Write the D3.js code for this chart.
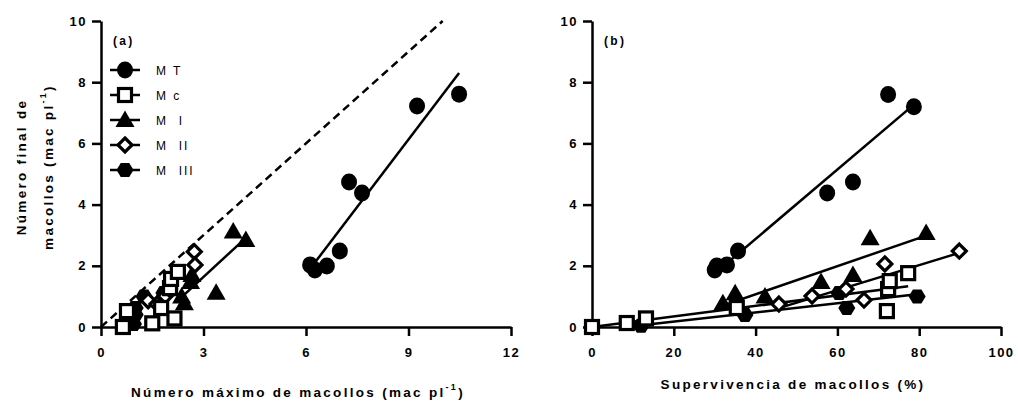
<!DOCTYPE html>
<html>
<head>
<meta charset="utf-8">
<script src="https://cdn.jsdelivr.net/npm/d3@7"></script>
<style>
  body { margin: 0; background: #fff; }
  text { font-family: "Liberation Sans", Arial, sans-serif; fill: #000; }
  .axis path, .axis line { stroke: #000; stroke-width: 2.5px; }
  .axis text { font-size: 13px; font-weight: bold; letter-spacing: 1.5px; font-family: "Liberation Sans", Arial, sans-serif; }
  .title { font-size: 13.5px; font-weight: bold; letter-spacing: 2.3px; }
</style>
</head>
<body>
<div id="chart"></div>
<script>
// panel (a): numero maximo vs numero final de macollos (mac pl-1)
var aMT   = [[6.12,2.03],[6.26,1.86],[6.61,1.99],[6.99,2.48],[7.26,4.74],[7.64,4.38],[9.25,7.22],[10.48,7.61]];
var aMc   = [[0.64,0],[0.76,0.52],[1.5,0.12],[1.76,0.62],[2.02,1.27],[2.05,1.57],[2.25,1.8],[2.15,0.28]];
var aMI   = [[2.44,0.78],[3.37,1.12],[2.36,1.0],[2.62,1.47],[2.66,1.7],[4.24,2.84],[3.87,3.12]];
var aMII  = [[2.73,2.46],[2.75,2.03],[1.38,0.86],[1.64,0.75],[1.88,1.01],[2.0,1.24]];
var aMIII = [[0.95,0.1],[1.0,0.4],[1.0,0.62],[1.26,1.0],[1.84,1.11]];

// panel (b): supervivencia (%) vs numero final
var bMT   = [[30,1.86],[30.5,1.99],[33,2.03],[35.7,2.48],[57.5,4.38],[63.8,4.74],[72.4,7.6],[78.7,7.2]];
var bMc   = [[0,0],[8.5,0.13],[13.2,0.28],[35.4,0.62],[72.1,0.52],[72.4,1.24],[72.8,1.5],[77.3,1.76]];
var bMI   = [[32,0.78],[35,1.1],[42.3,1.0],[56,1.47],[63.8,1.7],[68,2.9],[81.7,3.07]];
var bMII  = [[45.7,0.75],[53.8,1.01],[62.1,1.24],[66.5,0.88],[71.6,2.06],[89.8,2.48]];
var bMIII = [[12,0.04],[37.4,0.39],[60.4,1.11],[62.3,0.62],[79.5,1.0]];

var seriesNames  = ["MT", "Mc", "MI", "MII", "MIII"];
var legendLabels = ["M T", "M c", "M  I", "M  II", "M  III"];
var drawOrder    = ["MT", "MIII", "MI", "MII", "Mc"];
var fitsA = ["MT", "MI"];
var fitsB = ["MT", "Mc", "MI", "MII", "MIII"];
var oneToOne = [0, 10];

var xTicksA = [0, 3, 6, 9, 12];
var xTicksB = [0, 20, 40, 60, 80, 100];
var yTicks  = [0, 2, 4, 6, 8, 10];

var dataA = {MT: aMT, Mc: aMc, MI: aMI, MII: aMII, MIII: aMIII};
var dataB = {MT: bMT, Mc: bMc, MI: bMI, MII: bMII, MIII: bMIII};

var width = 1018, height = 407;

var svg = d3.select("#chart").append("svg")
    .attr("width", width)
    .attr("height", height);

var xA = d3.scaleLinear().domain([0, 12]).range([101, 511]);
var xB = d3.scaleLinear().domain([0, 100]).range([592, 1001]);
var y  = d3.scaleLinear().domain([0, 10]).range([327, 21]);

// marker shapes
function hexPath(r) {
  var pts = d3.range(6).map(function(i) {
    var a = Math.PI / 3 * i;
    return [r * Math.cos(a), r * 0.95 * Math.sin(a)];
  });
  return "M" + pts.join("L") + "Z";
}

function addMarker(g, name, cx, cy) {
  var m;
  switch (name) {
    case "MT":
      m = g.append("ellipse").attr("rx", 8).attr("ry", 8.5).attr("fill", "#000");
      break;
    case "Mc":
      m = g.append("rect").attr("x", -6.5).attr("y", -6.5).attr("width", 13).attr("height", 13)
          .attr("fill", "#fff").attr("stroke", "#000").attr("stroke-width", 3.2);
      break;
    case "MI":
      m = g.append("path").attr("d", "M0,-9.5L9.5,7L-9.5,7Z").attr("fill", "#000");
      break;
    case "MII":
      m = g.append("path").attr("d", "M0,-7L7,0L0,7L-7,0Z")
          .attr("fill", "#fff").attr("stroke", "#000").attr("stroke-width", 3.2);
      break;
    default:
      m = g.append("path").attr("d", hexPath(8.5)).attr("fill", "#000");
  }
  m.attr("transform", "translate(" + cx + "," + cy + ")");
}

// least squares line over the data range
function linFit(pts) {
  var mx = d3.mean(pts, function(d) { return d[0]; });
  var my = d3.mean(pts, function(d) { return d[1]; });
  var sxy = d3.sum(pts, function(d) { return (d[0] - mx) * (d[1] - my); });
  var sxx = d3.sum(pts, function(d) { return (d[0] - mx) * (d[0] - mx); });
  var m = sxy / sxx, b = my - m * mx;
  var x0 = d3.min(pts, function(d) { return d[0]; });
  var x1 = d3.max(pts, function(d) { return d[0]; });
  return [[x0, m * x0 + b], [x1, m * x1 + b]];
}

function drawPanel(x, xTicks, data, fits, extra) {
  var g = svg.append("g");

  g.append("g")
      .attr("class", "axis")
      .attr("transform", "translate(0," + y(0) + ")")
      .call(d3.axisBottom(x).tickValues(xTicks).tickSize(9).tickSizeOuter(0).tickPadding(12)
            .tickFormat(d3.format("d")));

  g.append("g")
      .attr("class", "axis")
      .attr("transform", "translate(" + x(0) + ",0)")
      .call(d3.axisLeft(y).tickValues(yTicks).tickSize(9).tickSizeOuter(0).tickPadding(5)
            .tickFormat(d3.format("d")));

  var line = d3.line()
      .x(function(d) { return x(d[0]); })
      .y(function(d) { return y(d[1]); });

  if (extra) extra(g, line);

  fits.forEach(function(s) {
    g.append("path")
        .attr("d", line(linFit(data[s])))
        .attr("fill", "none")
        .attr("stroke", "#000")
        .attr("stroke-width", 2.5);
  });

  drawOrder.forEach(function(s) {
    data[s].forEach(function(d) {
      addMarker(g, s, x(d[0]), y(d[1]));
    });
  });
  return g;
}

// panel (a), with the dashed 1:1 line
drawPanel(xA, xTicksA, dataA, fitsA, function(g, line) {
  g.append("path")
      .attr("d", line(oneToOne.map(function(v) { return [v, v]; })))
      .attr("fill", "none")
      .attr("stroke", "#000")
      .attr("stroke-width", 2.5)
      .attr("stroke-dasharray", "8,5");
});

// panel (b)
drawPanel(xB, xTicksB, dataB, fitsB);

// panel letters
svg.append("text").attr("x", 113).attr("y", 45).attr("class", "title").style("font-size", "12px").text("(a)");
svg.append("text").attr("x", 604).attr("y", 45).attr("class", "title").style("font-size", "12px").text("(b)");

// legend
var legend = svg.append("g");
seriesNames.forEach(function(s, i) {
  var ly = 70 + i * 25;
  legend.append("line")
      .attr("x1", 110).attr("x2", 140).attr("y1", ly).attr("y2", ly)
      .attr("stroke", "#000").attr("stroke-width", 2.5);
  addMarker(legend, s, 125, ly);
  legend.append("text")
      .attr("x", 156).attr("y", ly + 4.5)
      .style("font-size", "12px")
      .style("letter-spacing", "2px")
      .style("white-space", "pre")
      .text(legendLabels[i]);
});

// axis titles
var tA = svg.append("text").attr("class", "title")
    .attr("x", 298).attr("y", 397).attr("text-anchor", "middle");
tA.append("tspan").text("Número máximo de macollos (mac pl");
tA.append("tspan").attr("dy", -7).style("font-size", "9px").text("-1");
tA.append("tspan").attr("dy", 7).text(")");

svg.append("text").attr("class", "title")
    .attr("x", 793).attr("y", 389).attr("text-anchor", "middle")
    .text("Supervivencia de macollos (%)");

var yt = svg.append("g").attr("transform", "translate(26,167) rotate(-90)");
yt.append("text").attr("class", "title").attr("text-anchor", "middle").attr("y", 0).text("Número final de");
var yt2 = yt.append("text").attr("class", "title").attr("text-anchor", "middle").attr("y", 27);
yt2.append("tspan").text("macollos (mac pl");
yt2.append("tspan").attr("dy", -7).style("font-size", "9px").text("-1");
yt2.append("tspan").attr("dy", 7).text(")");
</script>
</body>
</html>
